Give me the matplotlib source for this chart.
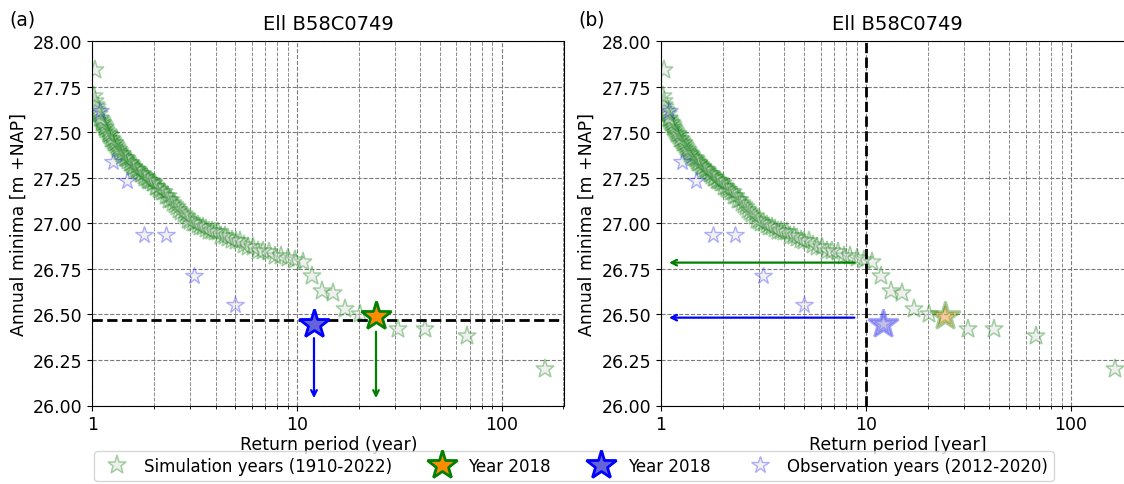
import matplotlib
matplotlib.use("Agg")
import matplotlib.pyplot as plt
from matplotlib.ticker import FuncFormatter, LogLocator

# ---------------- data ----------------
sim_T = [163, 67.5, 42.2, 31.3, 24.3, 20.3, 17.2, 15.0, 13.2, 11.8,
         10.7, 9.79, 9.01, 8.34, 7.77, 7.27, 6.83, 6.44, 6.09, 5.78,
         5.50, 5.25, 5.01, 4.80, 4.61, 4.43, 4.26, 4.10, 3.96, 3.83,
         3.70, 3.58, 3.47, 3.37, 3.27, 3.18, 3.09, 3.01, 2.93, 2.86,
         2.79, 2.72, 2.66, 2.60, 2.54, 2.48, 2.43, 2.38, 2.33, 2.28,
         2.24, 2.19, 2.15, 2.11, 2.07, 2.04, 2.00, 1.97, 1.93, 1.90,
         1.87, 1.84, 1.81, 1.78, 1.75, 1.73, 1.70, 1.68, 1.65, 1.63,
         1.60, 1.58, 1.56, 1.54, 1.52, 1.50, 1.48, 1.46, 1.44, 1.42,
         1.40, 1.39, 1.37, 1.35, 1.34, 1.32, 1.31, 1.29, 1.28, 1.26,
         1.25, 1.24, 1.22, 1.21, 1.20, 1.19, 1.17, 1.16, 1.15, 1.14,
         1.13, 1.12, 1.11, 1.10, 1.09, 1.08, 1.07, 1.06, 1.05, 1.04,
         1.03, 1.02, 1.03]
sim_y = [26.20, 26.38, 26.42, 26.42, 26.49, 26.50, 26.53, 26.62, 26.63, 26.71,
         26.79, 26.80, 26.81, 26.82, 26.82, 26.84, 26.85, 26.85, 26.87, 26.87,
         26.88, 26.90, 26.90, 26.91, 26.92, 26.93, 26.93, 26.95, 26.95, 26.96,
         26.96, 26.97, 26.98, 26.98, 26.99, 27.00, 27.00, 27.01, 27.02, 27.04,
         27.05, 27.06, 27.07, 27.09, 27.10, 27.11, 27.13, 27.13, 27.15, 27.15,
         27.17, 27.17, 27.18, 27.19, 27.20, 27.20, 27.22, 27.22, 27.23, 27.23,
         27.24, 27.25, 27.25, 27.26, 27.27, 27.27, 27.28, 27.29, 27.29, 27.30,
         27.31, 27.31, 27.32, 27.33, 27.33, 27.34, 27.35, 27.36, 27.36, 27.37,
         27.38, 27.38, 27.39, 27.40, 27.41, 27.42, 27.43, 27.44, 27.44, 27.45,
         27.46, 27.46, 27.48, 27.49, 27.49, 27.50, 27.51, 27.52, 27.53, 27.54,
         27.55, 27.55, 27.56, 27.57, 27.58, 27.60, 27.61, 27.62, 27.64, 27.65,
         27.67, 27.70, 27.84]

obs_T = [12.1, 4.98, 3.14, 2.29, 1.79, 1.48, 1.26, 1.09]
obs_y = [26.447, 26.551, 26.712, 26.937, 26.937, 27.233, 27.334, 27.618]

sim2018_T, sim2018_y = 24.3, 26.489
obs2018_T, obs2018_y = 12.1, 26.447

threshold_y = 26.47          # panel (a) horizontal line
threshold_T = 10             # panel (b) vertical line
sim_at_T10 = 26.784
obs_at_T10 = 26.482

title = "Ell B58C0749"
ylabel = "Annual minima [m +NAP]"
xlabels = ["Return period (year)", "Return period [year]"]
panel_tags = ["(a)", "(b)"]
legend_labels = ["Simulation years (1910-2022)", "Year 2018", "Year 2018",
                 "Observation years (2012-2020)"]

# ---------------- figure ----------------
W, H = 1124, 485
fig = plt.figure(figsize=(W / 100, H / 100), dpi=100)
ax1 = fig.add_axes([92.3 / W, 1 - 406.5 / H, 472 / W, 364.5 / H])
ax2 = fig.add_axes([661 / W, 1 - 406.5 / H, 472.7 / W, 364.5 / H])

FS = 12.5


def style(ax, xlabel, tag):
    ax.set_xscale("log")
    ax.set_xlim(1, 202)
    ax.set_ylim(26.0, 28.0)
    ax.set_yticks([26.0, 26.25, 26.5, 26.75, 27.0, 27.25, 27.5, 27.75, 28.0])
    ax.yaxis.set_major_formatter(FuncFormatter(lambda v, p: f"{v:.2f}"))
    ax.xaxis.set_major_locator(LogLocator(base=10))
    ax.xaxis.set_major_formatter(FuncFormatter(lambda v, p: f"{v:g}"))
    ax.xaxis.set_minor_formatter(FuncFormatter(lambda v, p: ""))
    ax.grid(True, which="major", axis="both", ls="--", color="#7a7a7a", lw=0.8)
    ax.grid(True, which="minor", axis="x", ls="--", color="#8a8a8a", lw=0.7)
    ax.tick_params(labelsize=FS)
    ax.set_title(title, fontsize=FS + 1.5, pad=9)
    ax.set_xlabel(xlabel, fontsize=FS, labelpad=1)
    ax.set_ylabel(ylabel, fontsize=FS)
    ax.text(-0.175, 1.035, tag, transform=ax.transAxes, fontsize=FS + 1,
            ha="left", va="bottom")


sim_kw = dict(ls="none", marker="*", ms=14, mfc="lightgrey", mec="green",
              mew=1.1, alpha=0.35)
obs_kw = dict(ls="none", marker="*", ms=13, mfc="lightgrey", mec="blue",
              mew=1.0, alpha=0.3)

# ---- panel (a)
ax = ax1
style(ax, xlabels[0], panel_tags[0])
h_sim, = ax.plot(sim_T, sim_y, **sim_kw)
h_obs, = ax.plot(obs_T, obs_y, **obs_kw)
ax.axhline(threshold_y, color="black", ls="--", lw=2, zorder=4)
h_s18, = ax.plot([sim2018_T], [sim2018_y], ls="none", marker="*", ms=22,
                 mfc="darkorange", mec="green", mew=2, zorder=6)
h_o18, = ax.plot([obs2018_T], [obs2018_y], ls="none", marker="*", ms=22,
                 mfc="#6464d8", mec="blue", mew=2, zorder=6)
ax.annotate("", xy=(obs2018_T, 26.025), xytext=(obs2018_T, 26.385),
            arrowprops=dict(arrowstyle="->", color="blue", lw=1.6))
ax.annotate("", xy=(sim2018_T, 26.025), xytext=(sim2018_T, 26.42),
            arrowprops=dict(arrowstyle="->", color="green", lw=1.6))

# ---- panel (b)
ax = ax2
style(ax, xlabels[1], panel_tags[1])
ax.plot(sim_T, sim_y, **sim_kw)
ax.plot(obs_T, obs_y, **obs_kw)
ax.axvline(threshold_T, color="black", ls="--", lw=2, zorder=4)
ax.plot([sim2018_T], [sim2018_y], ls="none", marker="*", ms=22,
        mfc="darkorange", mec="green", mew=2, alpha=0.35, zorder=6)
ax.plot([obs2018_T], [obs2018_y], ls="none", marker="*", ms=22,
        mfc="#6464d8", mec="blue", mew=2, alpha=0.35, zorder=6)
ax.annotate("", xy=(1.06, sim_at_T10), xytext=(9.05, sim_at_T10),
            arrowprops=dict(arrowstyle="->", color="green", lw=1.6))
ax.annotate("", xy=(1.06, obs_at_T10), xytext=(9.05, obs_at_T10),
            arrowprops=dict(arrowstyle="->", color="blue", lw=1.6))

fig.legend([h_sim, h_s18, h_o18, h_obs], legend_labels, loc="center",
           bbox_to_anchor=(574 / W, 1 - 467 / H), ncol=4, fontsize=FS - 0.5,
           frameon=True, columnspacing=2.0, handletextpad=0.6,
           borderpad=0.35)

fig.savefig("out.png", dpi=100)
